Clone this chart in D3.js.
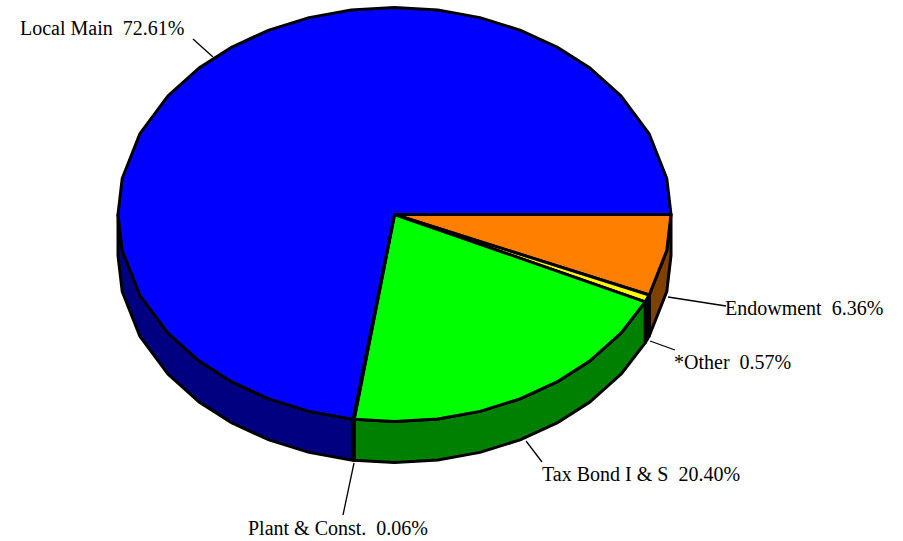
<!DOCTYPE html>
<html>
<head>
<meta charset="utf-8">
<script src="https://cdnjs.cloudflare.com/ajax/libs/d3/7.8.5/d3.min.js"></script>
<style>
  html, body { margin: 0; background: #fff; }
  text { font-family: "Liberation Serif", serif; font-size: 20px; fill: #000; }
</style>
</head>
<body>
<div id="chart"></div>
<script>
  // clockwise from 3 o'clock, same order as the original
  var categories = ["Endowment", "*Other", "Tax Bond I & S", "Plant & Const.", "Local Main"];
  var shares = [6.36, 0.57, 20.40, 0.06, 72.61];
  var topColors = ["#ff8000", "#ffff00", "#00ff00", "#0000ff", "#0000ff"];
  var sideColors = ["#804000", "#000000", "#008000", "#000080", "#000080"];

  var width = 903, height = 541;
  var cx = 394.5, cy = 214.5, rx = 276.5, ry = 207, depth = 41;

  var svg = d3.select("#chart").append("svg")
      .attr("width", width)
      .attr("height", height)
      .style("display", "block");

  // d3.pie angles start at 12 o'clock, so turn them by a quarter
  var pie = d3.pie().sort(null).startAngle(Math.PI / 2).endAngle(Math.PI * 2.5);
  var slices = pie(shares);

  function px(a) { return cx + rx * Math.sin(a); }
  function py(a) { return cy - ry * Math.cos(a); }

  var line = d3.line().x(d => d[0]).y(d => d[1]);

  // the original outline is faceted, these are its vertices in one quadrant (degrees)
  var quadrant = [0, 9, 18, 27, 36, 45, 55, 67, 80, 90];
  var facets = [];
  [0, 360].forEach(turn => {
    quadrant.forEach(q => {
      facets.push(turn + q, turn + 180 - q, turn + 180 + q, turn + 360 - q);
    });
  });
  facets = Array.from(new Set(facets)).sort(d3.ascending).map(q => q * Math.PI / 180);

  function rim(a0, a1, dy) {
    var angles = [a0].concat(facets.filter(a => a > a0 && a < a1), [a1]);
    return angles.map(a => [px(a), py(a) + dy]);
  }

  // only the front half of the ellipse shows a side wall
  var frontStart = Math.PI / 2, frontEnd = Math.PI * 1.5;
  var wall = svg.append("g");
  slices.forEach((d, i) => {
    var a0 = Math.max(d.startAngle, frontStart), a1 = Math.min(d.endAngle, frontEnd);
    if (a1 <= a0) return;
    var pts = rim(a0, a1, 0).concat(rim(a0, a1, depth).reverse());
    wall.append("path")
        .attr("d", line(pts) + "Z")
        .attr("fill", sideColors[i])
        .attr("stroke", "#000")
        .attr("stroke-width", 3)
        .attr("stroke-linejoin", "round");
  });

  var face = svg.append("g");
  slices.forEach((d, i) => {
    var pts = [[cx, cy]].concat(rim(d.startAngle, d.endAngle, 0));
    face.append("path")
        .attr("d", line(pts) + "Z")
        .attr("fill", topColors[i])
        .attr("stroke", "#000")
        .attr("stroke-width", 3)
        .attr("stroke-linejoin", "round");
  });

  // leader line ends and label anchors, by slice index
  var labelSpots = [
    {x: 725, y: 315, from: [668, 297], to: [726, 306]},
    {x: 674, y: 369, from: [650, 341], to: [675, 350]},
    {x: 542, y: 481, from: [526, 441], to: [542, 462]},
    {x: 248, y: 535, from: [354, 463], to: [343, 515]},
    {x: 20, y: 35, from: [213, 57], to: [193, 39]}
  ];

  var labels = svg.append("g");
  categories.forEach((c, i) => {
    var s = labelSpots[i];
    labels.append("path")
        .attr("d", line([s.from, s.to]))
        .attr("stroke", "#000")
        .attr("stroke-width", 1.3)
        .attr("fill", "none");
    labels.append("text")
        .attr("x", s.x)
        .attr("y", s.y)
        .attr("xml:space", "preserve")
        .style("white-space", "pre")
        .text(c + "  " + shares[i].toFixed(2) + "%");
  });
</script>
</body>
</html>
